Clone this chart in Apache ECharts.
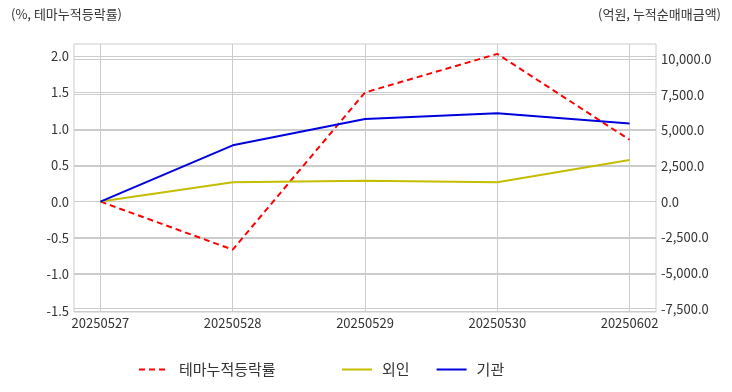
<!DOCTYPE html>
<html>
<head>
<meta charset="utf-8">
<script src="https://cdn.jsdelivr.net/npm/echarts@6/dist/echarts.min.js"></script>
<style>
html,body{margin:0;padding:0;background:#fff;}
#chart{width:732px;height:392px;}
</style>
</head>
<body>
<div id="chart"></div>
<script>
var categories = ['20250527', '20250528', '20250529', '20250530', '20250602'];
var themeRate = [0, -0.66, 1.50, 2.03, 0.85];
var foreignNet = [0, 1350, 1465, 1350, 2915];
var instNet = [0, 3945, 5790, 6190, 5475];
var seriesNames = ['테마누적등락률', '외인', '기관'];
var leftTicks = [-1.5, -1.0, -0.5, 0, 0.5, 1.0, 1.5, 2.0];
var rightTicks = [-7500, -5000, -2500, 0, 2500, 5000, 7500, 10000];
var leftAxisTitle = '(%, 테마누적등락률)';
var rightAxisTitle = '(억원, 누적순매매금액)';

var FONT = '"Noto Sans CJK KR", "Noto Sans", sans-serif';
function pairs(arr) { return arr.map(function (v, i) { return [i, v]; }); }
var catIdx = categories.map(function (c, i) { return i; });

var legendText = { fontSize: 15, color: '#333', fontFamily: FONT, padding: [0, 0, 0, 5] };

var chart = echarts.init(document.getElementById('chart'), null, { renderer: 'canvas' });
chart.setOption({
  animation: false,
  backgroundColor: '#ffffff',
  textStyle: { fontFamily: FONT },
  title: [
    { text: leftAxisTitle, left: 6, top: 3, textStyle: { fontSize: 13, fontWeight: 'normal', color: '#333', fontFamily: FONT } },
    { text: rightAxisTitle, right: 6, top: 3, textStyle: { fontSize: 13, fontWeight: 'normal', color: '#333', fontFamily: FONT } }
  ],
  grid: { left: 74, right: 76, top: 44, bottom: 80, show: true, borderColor: '#cccccc', borderWidth: 1, containLabel: false },
  legend: [
    {
      left: 133, top: 357, itemWidth: 30, itemHeight: 14,
      itemStyle: { opacity: 0 }, textStyle: legendText,
      data: [seriesNames[0]]
    },
    {
      left: 336, top: 357, itemWidth: 30, itemHeight: 14, itemGap: 26,
      itemStyle: { opacity: 0 }, textStyle: legendText,
      data: [seriesNames[1], seriesNames[2]]
    }
  ],
  xAxis: {
    type: 'value', min: -0.2, max: 4.2,
    axisLine: { show: false },
    axisTick: { show: false, customValues: catIdx },
    splitLine: { show: true, lineStyle: { color: '#cccccc', width: 1 } },
    axisLabel: {
      fontSize: 13, color: '#333', margin: 5, fontFamily: FONT,
      customValues: catIdx,
      formatter: function (v) { return categories[Math.round(v)] || ''; }
    }
  },
  yAxis: [
    {
      type: 'value', min: -1.517, max: 2.166,
      axisLine: { show: false },
      axisTick: { show: false, customValues: leftTicks },
      splitLine: { show: true, lineStyle: { color: '#cccccc', width: 1 } },
      axisLabel: {
        fontSize: 13, color: '#333', margin: 5, fontFamily: FONT,
        customValues: leftTicks,
        formatter: function (v) { return Number(v).toFixed(1); }
      }
    },
    {
      type: 'value', min: -7737, max: 11045,
      axisLine: { show: false },
      axisTick: { show: false, customValues: rightTicks },
      splitLine: { show: true, lineStyle: { color: '#cccccc', width: 1 } },
      axisLabel: {
        fontSize: 13, color: '#333', margin: 5, fontFamily: FONT,
        customValues: rightTicks,
        formatter: function (v) { return Number(v).toLocaleString('en-US', { minimumFractionDigits: 1, maximumFractionDigits: 1 }); }
      }
    }
  ],
  series: [
    { name: seriesNames[0], type: 'line', yAxisIndex: 0, data: pairs(themeRate), symbol: 'none', color: '#ff0000', lineStyle: { color: '#ff0000', width: 2, type: [6, 4] } },
    { name: seriesNames[1], type: 'line', yAxisIndex: 1, data: pairs(foreignNet), symbol: 'none', color: '#c4bd00', lineStyle: { color: '#c4bd00', width: 2 } },
    { name: seriesNames[2], type: 'line', yAxisIndex: 1, data: pairs(instNet), symbol: 'none', color: '#0000dd', lineStyle: { color: '#0000dd', width: 2 } }
  ]
});
</script>
</body>
</html>
